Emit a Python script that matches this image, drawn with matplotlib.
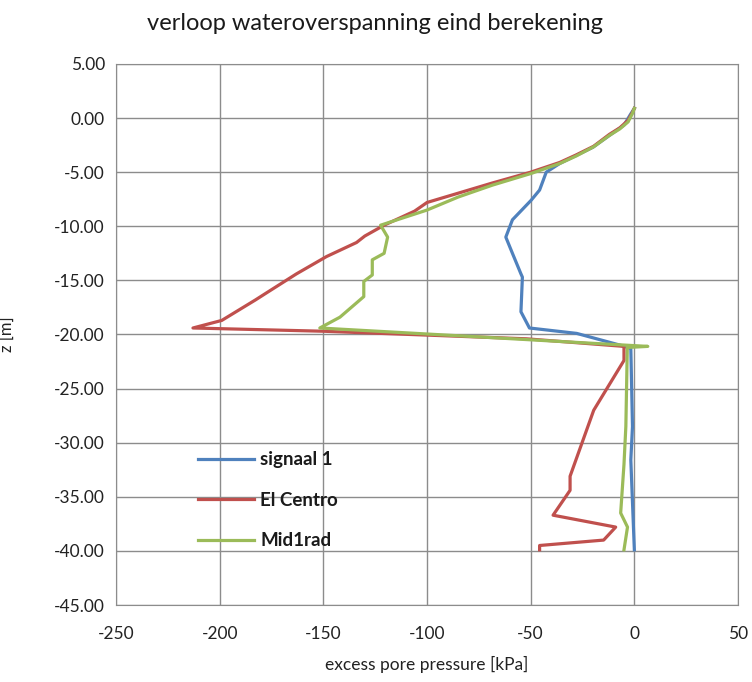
import matplotlib
matplotlib.use('Agg')
import matplotlib.pyplot as plt
from matplotlib.ticker import FormatStrFormatter, MultipleLocator

# excess pore pressure [kPa] versus depth z [m]
signaal_x = [0, -2, -5, -12, -20, -36, -42.5, -45.7, -49.8, -58.8, -62, -58.8,
             -54.7, -54, -54.7, -50.6, -27.8, -6.6, -1.7, -0.9, -1.7, 0]
signaal_z = [0.9, 0.3, -0.65, -1.6, -2.7, -4.2, -5, -6.65, -7.6, -9.4, -11, -12.5,
             -14.4, -14.7, -17.9, -19.4, -19.9, -21, -21.3, -28.5, -31.6, -39.9]

centro_x = [0, -1, -3, -7, -12, -19.6, -28, -36, -50, -68.5, -100, -106, -120.7,
            -130, -134, -148.5, -163, -177.8, -182.7, -199, -212.9, -150, -52, -5,
            -5, -19.6, -31, -31, -39.2, -9, -14.8, -45.7, -45.7]
centro_z = [0.9, 0.5, -0.2, -0.9, -1.5, -2.6, -3.4, -4.1, -5.0, -6.0, -7.8, -8.6, -9.9,
            -10.9, -11.5, -12.8, -14.4, -16.2, -16.8, -18.7, -19.4, -19.7, -20.4, -21.1,
            -22.4, -27, -33.1, -34.4, -36.7, -37.8, -39, -39.5, -39.9]

mid_x = [0, -1, -3, -7, -12, -19.6, -28, -36, -49.5, -68.5, -85, -100, -122.4, -119,
         -120.7, -126.4, -126.4, -130.5, -130.5, -142, -151.7, 6.5, -3.4, -4.1,
         -5, -6.6, -3.3, -5]
mid_z = [0.9, 0.4, -0.35, -1.0, -1.6, -2.65, -3.5, -4.2, -5.1, -6.2, -7.3, -8.5, -9.9,
         -11, -12.5, -13.1, -14.5, -15.1, -16.5, -18.4, -19.4, -21.1, -21.2, -28.5,
         -32, -36.5, -37.8, -39.9]

plt.rcParams['font.family'] = ['Lato', 'DejaVu Sans']
plt.rcParams['axes.unicode_minus'] = False

fig = plt.figure(figsize=(7.52, 6.82), dpi=100)
ax = fig.add_axes([0.1543, 0.1129, 0.8271, 0.7933])

ax.plot(signaal_x, signaal_z, color='#4F81BD', lw=2.3, label='signaal 1')
ax.plot(centro_x, centro_z, color='#C0504D', lw=2.3, label='El Centro')
ax.plot(mid_x, mid_z, color='#9BBB59', lw=2.3, label='Mid1rad')

ax.set_xlim(-250, 50)
ax.set_ylim(-45, 5)
ax.xaxis.set_major_locator(MultipleLocator(50))
ax.yaxis.set_major_locator(MultipleLocator(5))
ax.yaxis.set_major_formatter(FormatStrFormatter('%.2f'))
ax.grid(True, color='#8c8c8c', lw=1)
ax.set_axisbelow(True)
ax.tick_params(length=0, labelsize=12.5, colors='#222222')
ax.tick_params(axis='x', pad=15)
ax.tick_params(axis='y', pad=8)
for s in ax.spines.values():
    s.set_color('#8c8c8c')

ax.set_xlabel('excess pore pressure [kPa]', fontsize=12.5, color='#222222', labelpad=10)
ax.set_ylabel('z [m]', fontsize=12, color='#222222', labelpad=28)

fig.text(0.4987, 1 - 24 / 682, 'verloop wateroverspanning eind berekening',
         ha='center', va='center', fontsize=17, color='#1a1a1a')

ax.legend(loc='upper left', bbox_to_anchor=(0.105, 0.315), frameon=False,
          labelspacing=1.25, handlelength=3.0, handletextpad=0.3,
          labelcolor='#1a1a1a', prop={'weight': 'bold', 'size': 13.5})

fig.savefig('out.png', dpi=100)
